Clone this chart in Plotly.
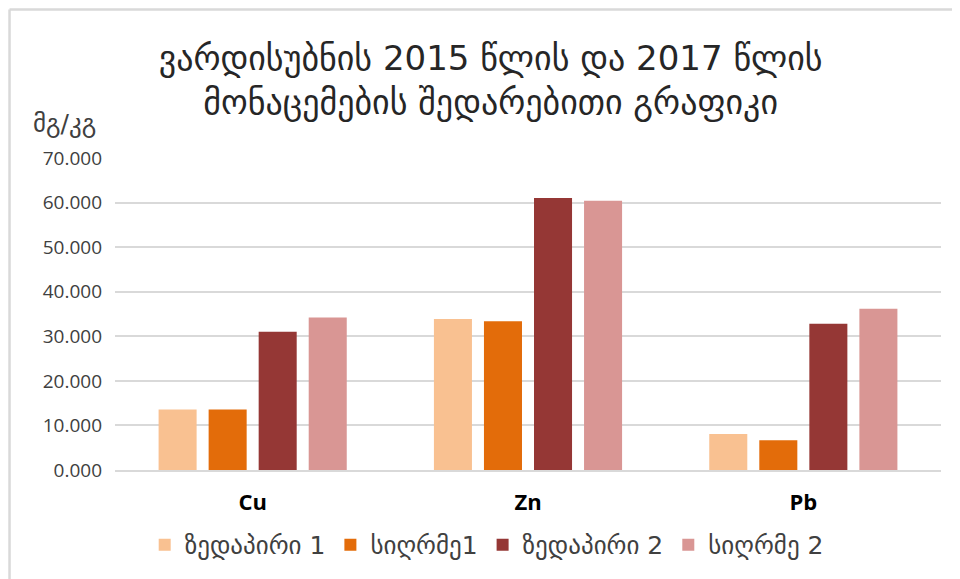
import plotly.graph_objects as go

categories = ["Cu", "Zn", "Pb"]
series_names = ["ზედაპირი 1", "სიღრმე1", "ზედაპირი 2", "სიღრმე 2"]
surface_1 = [13.6, 33.9, 8.1]
depth_1 = [13.6, 33.4, 6.7]
surface_2 = [31.0, 61.0, 32.8]
depth_2 = [34.2, 60.4, 36.2]
colors = ["#F9C191", "#E36C0A", "#953735", "#D99694"]
y_ticks = [0, 10, 20, 30, 40, 50, 60, 70]

font_geo = "DejaVu Sans"
font_num = "Open Sans"

fig = go.Figure()
for name, vals, c in zip(series_names, [surface_1, depth_1, surface_2, depth_2], colors):
    fig.add_trace(go.Bar(x=categories, y=vals, name=name, marker=dict(color=c, line=dict(width=0))))

# page has an 8px body margin, so the figure is sized to fill the rest of the window
fig.update_layout(
    width=952, height=571,
    margin=dict(l=107, r=19, t=150, b=109, autoexpand=False),
    paper_bgcolor="white", plot_bgcolor="white",
    barmode="group", bargap=0.273, bargroupgap=0.24,
    title=dict(text="ვარდისუბნის 2015 წლის და 2017 წლის<br>მონაცემების შედარებითი გრაფიკი",
               x=0.507, xanchor="center", y=0.891, yanchor="middle",
               font=dict(family=font_geo, size=34, color="#262626")),
    showlegend=True,
    legend=dict(orientation="h", x=0.45, xanchor="center",
                y=-0.24, yanchor="middle",
                font=dict(family=font_geo, size=25, color="#404040"),
                itemwidth=30, traceorder="normal"),
    hovermode=False,
)
fig.update_yaxes(range=[0, 70], tickvals=y_ticks, tickformat=".3f",
                 showgrid=True, gridcolor="#D9D9D9", gridwidth=1.5,
                 zeroline=False, showline=False, ticks="", ticklabelstandoff=12,
                 tickfont=dict(family=font_num, size=19, color="#404040"))
fig.update_xaxes(showline=True, linecolor="#D9D9D9", linewidth=1.5, ticks="",
                 tickfont=dict(family=font_num, size=22, color="#000000", weight="bold"))
fig.update_xaxes(ticklabelstandoff=12)

fig.add_annotation(text="მგ/კგ", xref="paper", yref="paper", x=-0.061, y=1.11,
                   xanchor="center", yanchor="middle", showarrow=False,
                   font=dict(family=font_geo, size=25, color="#404040"))

# chart frame (top and left edges visible)
fig.add_shape(type="line", xref="paper", yref="paper", x0=-0.1277, x1=1.03, y0=1.476, y1=1.476,
              line=dict(color="#D9D9D9", width=2.5))
fig.add_shape(type="line", xref="paper", yref="paper", x0=-0.1277, x1=-0.1277, y0=1.476, y1=-0.36,
              line=dict(color="#D9D9D9", width=2.5))

fig.write_html("out.html")
